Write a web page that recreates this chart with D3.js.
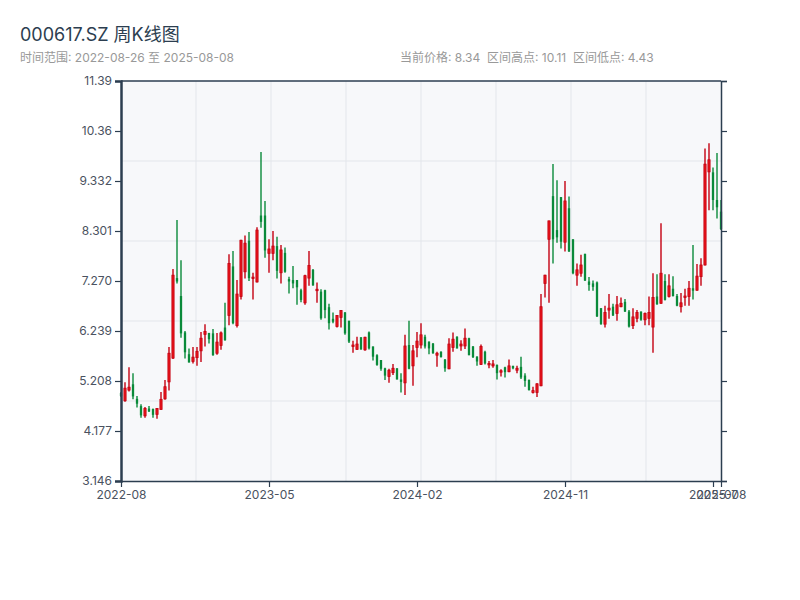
<!DOCTYPE html>
<html><head><meta charset="utf-8">
<script src="https://cdn.jsdelivr.net/npm/d3@7"></script>
<style>
body{margin:0;background:#fff;}
text{font-family:Inter,"Noto Sans CJK SC",sans-serif;}
</style></head>
<body><svg id="c" width="800" height="600"></svg>
<script>
const title = "000617.SZ 周K线图";
const rangeText = "时间范围: 2022-08-26 至 2025-08-08";
const infoText = "当前价格: 8.34  区间高点: 10.11  区间低点: 4.43";

const firstDate = "2022-08-26";
const skippedWeeks = ["2022-10-07","2023-01-27","2023-10-06","2024-02-16"];

const open = [4.96,4.80,5.02,5.14,4.84,4.69,4.49,4.64,4.63,4.52,4.62,4.84,5.19,5.68,7.33,6.96,6.21,5.76,5.61,5.69,
5.83,6.17,6.20,6.19,5.78,5.94,6.31,6.56,7.57,6.35,6.95,7.46,8.10,7.32,7.25,8.62,8.62,7.84,7.84,7.99,
7.44,7.85,7.31,7.29,7.29,7.08,6.82,7.33,7.50,7.07,7.05,7.08,6.73,6.49,6.33,6.52,6.62,6.45,5.92,5.86,
6.11,5.85,6.21,5.92,5.74,5.64,5.47,5.30,5.38,5.47,5.24,5.17,5.95,5.52,5.90,5.95,6.12,6.02,5.98,5.74,
5.81,5.65,5.46,5.90,6.12,5.93,5.93,6.09,5.92,5.71,5.55,5.81,5.54,5.52,5.54,5.39,5.49,5.40,5.52,5.43,
5.50,5.32,5.23,4.97,4.97,5.11,7.22,8.13,9.02,8.32,9.00,8.07,8.77,8.13,7.39,7.43,7.83,7.26,7.22,7.24,
6.71,6.38,6.67,6.74,6.60,6.74,6.84,6.64,6.35,6.50,6.64,6.47,6.50,6.32,6.95,6.81,7.27,6.95,7.11,6.96,
6.74,6.93,6.95,7.12,7.08,7.36,7.60,9.52,9.51,8.94,8.70];
const high = [4.98,5.18,5.49,5.37,4.90,4.73,4.67,4.69,4.64,4.65,4.98,5.23,5.91,7.52,8.53,7.70,6.24,5.88,5.91,5.91,
6.22,6.38,6.20,6.28,6.20,6.23,6.82,7.82,7.89,7.29,8.12,8.21,8.28,7.44,8.38,9.93,8.92,8.13,8.30,8.18,
8.01,7.96,7.36,7.58,7.29,7.11,7.40,7.89,7.52,7.24,7.10,7.09,6.80,6.62,6.57,6.67,6.63,6.45,6.04,6.12,
6.11,6.12,6.23,5.92,5.76,5.64,5.48,5.46,5.56,5.47,5.37,6.16,6.45,5.95,6.22,6.40,6.16,6.02,5.99,5.81,
5.82,5.66,6.09,6.21,6.13,6.05,6.29,6.10,5.93,5.72,5.96,5.83,5.62,5.64,5.55,5.45,5.50,5.65,5.52,5.52,
5.71,5.37,5.24,5.09,5.16,7.00,7.40,8.51,9.68,9.35,9.00,9.33,9.01,8.13,7.63,7.81,7.83,7.35,7.28,7.26,
6.71,6.76,7.00,6.80,6.96,6.93,6.90,6.67,6.71,6.67,6.64,6.62,6.95,7.43,7.41,8.46,7.41,7.41,7.37,7.00,
7.02,7.11,7.27,8.01,7.62,7.74,10.00,10.11,9.61,9.91,8.94];
const low = [4.88,4.78,4.99,4.83,4.66,4.45,4.45,4.57,4.45,4.43,4.62,4.82,5.01,5.66,7.22,6.10,5.67,5.59,5.57,5.52,
5.60,5.92,5.98,5.73,5.75,5.85,6.04,6.36,6.38,6.31,6.89,7.32,7.27,6.89,7.24,8.37,7.75,7.44,7.70,7.32,
7.22,7.44,7.01,7.12,6.78,6.83,6.78,7.17,7.17,6.82,6.47,6.50,6.27,6.40,6.31,6.31,6.16,5.99,5.79,5.85,
5.85,5.83,5.86,5.63,5.52,5.42,5.23,5.17,5.33,5.24,4.97,4.92,5.45,5.11,5.70,5.88,5.88,5.76,5.77,5.50,
5.69,5.40,5.45,5.81,5.88,5.83,5.87,5.74,5.68,5.52,5.54,5.55,5.47,5.48,5.24,5.30,5.28,5.39,5.45,5.37,
5.25,5.09,5.01,4.95,4.88,5.10,6.93,6.82,7.63,8.06,7.94,7.88,7.87,7.41,7.17,7.36,7.27,7.07,7.07,6.53,
6.37,6.31,6.49,6.55,6.45,6.73,6.63,6.31,6.28,6.42,6.45,6.36,6.36,5.79,6.78,6.80,6.87,6.93,6.95,6.75,
6.62,6.76,6.76,6.89,7.07,7.17,7.59,8.73,8.73,8.56,8.32];
const close = [4.90,5.06,5.08,4.89,4.74,4.50,4.64,4.58,4.51,4.64,4.83,5.09,5.78,7.39,7.26,6.19,5.80,5.59,5.70,5.82,
6.09,6.23,6.07,5.74,6.01,6.20,6.05,7.63,6.40,7.00,8.11,8.05,7.33,7.35,8.32,8.49,7.90,7.93,7.99,7.48,
7.91,7.46,7.26,7.22,7.14,6.88,7.38,7.59,7.18,7.10,6.50,6.67,6.40,6.43,6.56,6.66,6.19,6.02,5.95,5.97,
5.86,6.11,5.88,5.71,5.54,5.46,5.32,5.43,5.47,5.24,5.19,5.93,5.46,5.83,6.03,6.16,5.92,5.88,5.78,5.78,
5.70,5.47,5.97,6.07,5.88,5.97,6.09,5.74,5.70,5.61,5.92,5.57,5.57,5.56,5.37,5.42,5.39,5.52,5.47,5.47,
5.28,5.21,5.02,5.01,5.15,6.74,7.39,8.51,8.13,8.17,8.08,8.92,7.88,7.43,7.50,7.60,7.28,7.19,7.15,6.54,
6.38,6.62,6.71,6.56,6.78,6.81,6.64,6.33,6.53,6.62,6.47,6.60,6.62,6.93,6.79,7.43,6.88,7.17,6.96,6.76,
6.82,6.96,7.12,7.07,7.37,7.60,9.68,9.77,8.94,8.79,8.34];

const yTickStart = 3.146, yTickStep = 1.031, yTickCount = 9;
const xTickEvery = 37;

// weekly dates (Fridays), skipping weeks with no trading
const dates = [];
{
  const fmt = d3.timeFormat("%Y-%m-%d");
  let d = d3.timeParse("%Y-%m-%d")(firstDate);
  while (dates.length < open.length) {
    const s = fmt(d);
    if (!skippedWeeks.includes(s)) dates.push(s);
    d = d3.timeDay.offset(d, 7);
  }
}
const data = dates.map((dt, i) => ({i, dt, o: open[i], h: high[i], l: low[i], c: close[i]}));

const svg = d3.select("#c");
const m = {l:121, r:79, t:81, b:119};
const W = 800 - m.l - m.r, H = 600 - m.t - m.b;

const yTicks = d3.range(yTickCount).map(k => yTickStart + k * yTickStep);
const y = d3.scaleLinear().domain([yTicks[0], yTicks[yTicks.length-1]]).range([m.t + H, m.t]);
const x = d3.scaleLinear().domain([0, data.length - 1]).range([m.l, m.l + W]);

// title
svg.append("text").attr("x", 20).attr("y", 41).attr("font-size", 18).attr("fill", "#2c3e50").text(title);
svg.append("text").attr("x", 20).attr("y", 62).attr("font-size", 12).attr("fill", "#999").text(rangeText);
svg.append("text").attr("x", 400).attr("y", 62).attr("font-size", 12).attr("fill", "#999")
  .attr("xml:space","preserve").style("white-space","pre").text(infoText);

// plot background & grid
svg.append("rect").attr("x", m.l).attr("y", m.t).attr("width", W).attr("height", H).attr("fill", "#f7f8fa");
const gx = d3.scaleLinear().domain([0, 8]).range([m.l, m.l + W]);
const gy = d3.scaleLinear().domain([0, 5]).range([m.t, m.t + H]);
svg.append("g").selectAll("line").data(d3.range(1, 8)).join("line")
  .attr("x1", d => gx(d)).attr("x2", d => gx(d)).attr("y1", m.t).attr("y2", m.t + H)
  .attr("stroke", "#e3e6eb").attr("stroke-width", 1);
svg.append("g").selectAll("line").data(d3.range(1, 5)).join("line")
  .attr("y1", d => gy(d)).attr("y2", d => gy(d)).attr("x1", m.l).attr("x2", m.l + W)
  .attr("stroke", "#e3e6eb").attr("stroke-width", 1);

// candles
const upFill = "#e8141c", upStroke = "#c40010", downColor = "#0a8a3a";
const cg = svg.append("g");
const cs = cg.selectAll("g").data(data).join("g");
cs.append("line")
  .attr("x1", d => x(d.i)).attr("x2", d => x(d.i))
  .attr("y1", d => y(d.h)).attr("y2", d => y(d.l))
  .attr("stroke", d => d.c >= d.o ? upStroke : downColor).attr("stroke-width", 1.4);
cs.append("rect")
  .attr("x", d => x(d.i) - (d.c >= d.o ? 1.1 : 1.15))
  .attr("width", d => d.c >= d.o ? 2.2 : 2.3)
  .attr("y", d => y(Math.max(d.o, d.c)))
  .attr("height", d => Math.max(1, Math.abs(y(d.o) - y(d.c))))
  .attr("fill", d => d.c >= d.o ? upFill : downColor)
  .attr("stroke", d => d.c >= d.o ? upStroke : "none")
  .attr("stroke-width", 0.8);

// axes
const axisColor = "#2c3e50";
const fmtY = d3.format(".4g");
const yl = svg.append("g").attr("transform", `translate(${m.l},0)`)
  .call(d3.axisLeft(y).tickValues(yTicks).tickFormat(fmtY).tickSize(6));
const yr = svg.append("g").attr("transform", `translate(${m.l + W},0)`)
  .call(d3.axisRight(y).tickValues(yTicks).tickFormat("").tickSize(6));
const xTickIdx = d3.range(0, data.length, xTickEvery).concat([data.length - 1]);
const xa = svg.append("g").attr("transform", `translate(0,${m.t + H})`)
  .call(d3.axisBottom(x).tickValues(xTickIdx).tickFormat(i => data[i].dt.slice(0, 7)).tickSize(6).tickSizeOuter(0));
svg.append("line").attr("x1", m.l).attr("x2", m.l + W).attr("y1", m.t).attr("y2", m.t)
  .attr("stroke", axisColor).attr("stroke-width", 1.5);
[yl, yr, xa].forEach(g => {
  g.selectAll("path.domain").attr("stroke", axisColor).attr("stroke-width", 1.5);
  g.selectAll(".tick line").attr("stroke", axisColor).attr("stroke-width", 1.2);
  g.selectAll(".tick text").attr("fill", "#4a5260").attr("font-size", 12)
    .style("font-family", 'Inter,"Noto Sans CJK SC",sans-serif');
});
yl.select("path.domain").attr("stroke-width", 2.5);
</script></body></html>
